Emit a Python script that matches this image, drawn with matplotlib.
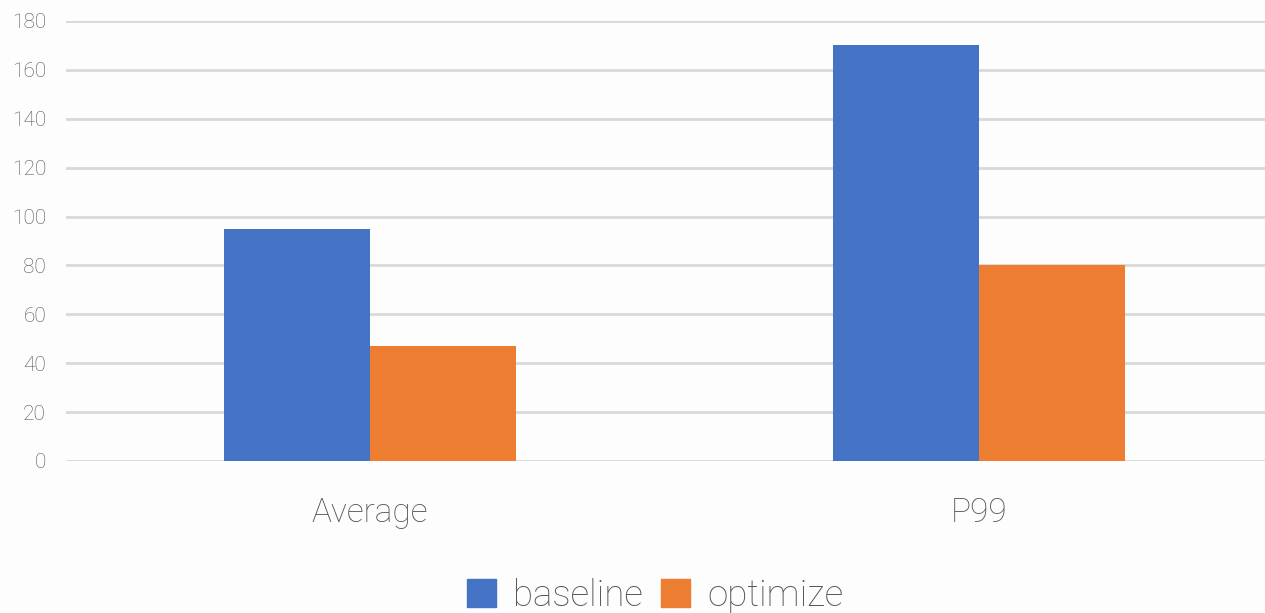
import matplotlib
matplotlib.use("Agg")
import matplotlib.pyplot as plt
import numpy as np
from matplotlib.patches import Patch

categories = ["Average", "P99"]
series_names = ["baseline", "optimize"]
baseline = [95, 170]
optimize = [47, 80]
yticks = [0, 20, 40, 60, 80, 100, 120, 140, 160, 180]
colors = ["#4472C4", "#ED7D31"]

plt.rcParams["font.family"] = ["Roboto", "DejaVu Sans"]

W, H = 1265, 613
fig = plt.figure(figsize=(W / 100, H / 100), dpi=100, facecolor="#FDFDFD")
left, right = 65.5, 1283.5
top, bottom = 21, 461
ax = fig.add_axes([left / W, 1 - bottom / H, (right - left) / W, (bottom - top) / H])
ax.set_facecolor("#FDFDFD")

x = np.arange(len(categories))
bw = 0.239
ax.bar(x - bw / 2, baseline, bw, color=colors[0], zorder=3)
ax.bar(x + bw / 2, optimize, bw, color=colors[1], zorder=3)

ax.set_xlim(-0.5, 1.5)
ax.set_ylim(0, 180)
ax.set_yticks(yticks)
ax.set_yticklabels([str(v) for v in yticks], fontsize=15, color="#555555", fontweight="light")
ax.set_xticks(x)
ax.set_xticklabels(categories, fontsize=24, color="#555555", fontweight="light")
ax.tick_params(axis="both", length=0)
ax.tick_params(axis="y", pad=14)
ax.tick_params(axis="x", pad=26)
ax.yaxis.grid(True, color="#D9D9D9", linewidth=2, zorder=0)
for s in ax.spines.values():
    s.set_visible(False)

handles = [Patch(color=c, label=n) for c, n in zip(colors, series_names)]
fig.legend(handles=handles, loc="center", bbox_to_anchor=(655 / W, 1 - 596 / H), ncol=2,
           frameon=False, labelcolor="#555555", handlelength=0.8, handleheight=0.8,
           handletextpad=0.45, columnspacing=0.5, prop={"size": 26.5, "weight": "light"})

fig.savefig("out.png", dpi=100, facecolor=fig.get_facecolor())
